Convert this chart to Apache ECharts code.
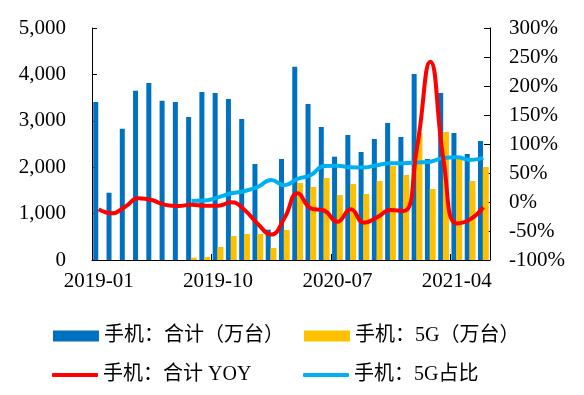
<!DOCTYPE html>
<html>
<head>
<meta charset="utf-8">
<script src="https://cdn.jsdelivr.net/npm/echarts@6/dist/echarts.min.js"></script>
<style>
html,body{margin:0;padding:0;background:#fff;}
#chart{width:584px;height:395px;}
</style>
</head>
<body>
<div id="chart"></div>
<script>
var categories = ["2019-01","2019-02","2019-03","2019-04","2019-05","2019-06","2019-07","2019-08","2019-09","2019-10","2019-11","2019-12",
  "2020-01","2020-02","2020-03","2020-04","2020-05","2020-06","2020-07","2020-08","2020-09","2020-10","2020-11","2020-12",
  "2021-01","2021-02","2021-03","2021-04","2021-05","2021-06"];
var totalShipments = [3405,1450,2830,3649,3814,3434,3405,3082,3620,3599,3470,3039,2069,654,2177,4166,3362,2866,2227,2694,2327,2608,2952,2651,4008,2177,3599,2737,2284,2564];
var shipments5G = [null,null,null,null,null,null,null,50,65,280,517,560,560,259,647,1659,1573,1767,1401,1638,1422,1702,2026,1832,2737,1530,2758,2177,1702,2004];
var totalYoY = [-12.6,-19.5,-8,6.3,3.4,-5,-7,-4.6,-6.3,-6.3,-0.6,-13.8,-38,-56,-28,15,-11,-15,-34,-12.6,-35.6,-26.4,-13.8,-15.5,94,242,72,-37,-30,-9];
var share5G = [null,null,null,null,null,null,null,1.7,2.5,8,15,19,26,38,29,40,46.5,62,62.5,60,59.5,63.5,67,67,68,69.5,76,77,72.5,76];
var leftTicks = [0,1000,2000,3000,4000,5000];
var rightTicks = [-100,-50,0,50,100,150,200,250,300];

var names = ["手机：合计（万台）","手机：5G（万台）","手机：合计 YOY","手机：5G占比"];
var FONT = "'Liberation Serif','Noto Sans CJK SC',serif";
var chart = echarts.init(document.getElementById('chart'));
function legendAt(name, left, top, icon, h){
  return {data:[name], left:left, top:top, icon:icon, itemWidth:46, itemHeight:h, itemGap:0,
    textStyle:{fontFamily:FONT, fontSize:20, color:'#000', lineHeight:20}, selectedMode:false};
}
chart.setOption({
  animation:false,
  backgroundColor:'#fff',
  grid:{left:92, right:94, top:28, bottom:135},
  legend:[
    legendAt(names[0], 48, 321, 'rect', 11),
    legendAt(names[1], 299, 321, 'rect', 11),
    legendAt(names[2], 47, 360, 'roundRect', 4),
    legendAt(names[3], 298, 360, 'roundRect', 4)
  ],
  xAxis:{type:'category', data:categories, boundaryGap:true,
    axisLine:{lineStyle:{color:'#000', width:1}},
    axisTick:{show:true, inside:true, interval:8, length:6, lineStyle:{color:'#000'}},
    axisLabel:{interval:8, margin:11, fontFamily:FONT, fontSize:21, color:'#000'}},
  yAxis:[
    {type:'value', min:leftTicks[0], max:leftTicks[leftTicks.length-1], interval:1000,
      axisLine:{show:true, lineStyle:{color:'#000'}},
      axisTick:{show:true, inside:true, length:5, lineStyle:{color:'#000'}},
      splitLine:{show:false},
      axisLabel:{margin:26, fontFamily:FONT, fontSize:21, color:'#000',
        formatter:function(v){return v.toLocaleString('en-US');}}},
    {type:'value', min:rightTicks[0], max:rightTicks[rightTicks.length-1], interval:50, position:'right',
      axisLine:{show:true, lineStyle:{color:'#000'}},
      axisTick:{show:true, inside:true, length:6, lineStyle:{color:'#000'}},
      splitLine:{show:false},
      axisLabel:{margin:19, fontFamily:FONT, fontSize:21, color:'#000', formatter:'{value}%'}}
  ],
  series:[
    {name:names[0], type:'bar', data:totalShipments, barWidth:5, barGap:'-5%', itemStyle:{color:'#0070C0'}},
    {name:names[1], type:'bar', data:shipments5G, barWidth:6, itemStyle:{color:'#FFC000'}},
    {name:names[2], type:'line', yAxisIndex:1, data:totalYoY, smooth:0.5, symbol:'none', z:5,
      lineStyle:{color:'#FF0000', width:4}, itemStyle:{color:'#FF0000'}},
    {name:names[3], type:'line', yAxisIndex:1, data:share5G, smooth:0.5, symbol:'none', z:4,
      lineStyle:{color:'#00B0F0', width:4}, itemStyle:{color:'#00B0F0'}}
  ]
});
</script>
</body>
</html>
